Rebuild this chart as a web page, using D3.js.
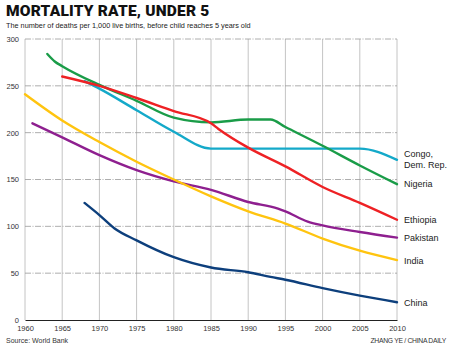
<!DOCTYPE html>
<html>
<head>
<meta charset="utf-8">
<script src="https://cdn.jsdelivr.net/npm/d3@7"></script>
<style>
  body { margin: 0; background: #fff; }
  svg { display: block; font-family: "Liberation Sans", Arial, sans-serif; }
</style>
</head>
<body>
<div id="chart"></div>
<script>
// values (deaths per 1,000 live births)
const congoYears = [1968, 1970, 1975, 1980, 1985, 1990, 1995, 2000, 2005, 2010];
const congoValues = [255, 247, 224, 201, 183, 183, 183, 183, 183, 171];

const nigeriaYears = [1963, 1964, 1965, 1970, 1975, 1980, 1985, 1990, 1993, 1995, 2000, 2005, 2010];
const nigeriaValues = [284, 276, 271, 251, 234, 216, 211, 214, 214, 206, 186, 165, 145];

const ethiopiaYears = [1965, 1970, 1975, 1980, 1985, 1986, 1990, 1995, 2000, 2005, 2010];
const ethiopiaValues = [260, 250, 237, 223, 210, 204, 184, 164, 142, 125, 107];

const pakistanYears = [1961, 1965, 1970, 1975, 1980, 1985, 1990, 1994, 1995, 1998, 2000, 2005, 2010];
const pakistanValues = [210, 195, 176, 160, 148, 139, 126, 119, 116, 105, 101, 94, 88];

const indiaYears = [1960, 1965, 1970, 1975, 1980, 1985, 1990, 1995, 2000, 2005, 2010];
const indiaValues = [241, 213, 190, 169, 150, 132, 116, 103, 87, 74, 64];

const chinaYears = [1968, 1970, 1972, 1975, 1980, 1985, 1990, 1993, 1995, 2000, 2005, 2010];
const chinaValues = [125, 112, 98, 85, 67, 56, 51, 46, 43, 34, 26, 19];

const xTicks = [1960, 1965, 1970, 1975, 1980, 1985, 1990, 1995, 2000, 2005, 2010];
const yTicks = [0, 50, 100, 150, 200, 250, 300];

const series = [
  { name: ['Congo,', 'Dem. Rep.'], years: congoYears, values: congoValues, color: '#14a9c9' },
  { name: ['Nigeria'], years: nigeriaYears, values: nigeriaValues, color: '#1a9c48' },
  { name: ['Ethiopia'], years: ethiopiaYears, values: ethiopiaValues, color: '#ee2124' },
  { name: ['Pakistan'], years: pakistanYears, values: pakistanValues, color: '#8e1f8f' },
  { name: ['India'], years: indiaYears, values: indiaValues, color: '#ffc40f' },
  { name: ['China'], years: chinaYears, values: chinaValues, color: '#0d3f7c' }
];

const width = 450, height = 347;
const svg = d3.select('#chart').append('svg')
  .attr('width', width)
  .attr('height', height);

const x = d3.scaleLinear().domain([1960, 2010]).range([25, 397]);
const y = d3.scaleLinear().domain([0, 300]).range([320, 39]);

// title
svg.append('text')
  .attr('x', 6).attr('y', 16)
  .style('font-family', 'Roboto, sans-serif')
  .style('font-weight', 900)
  .style('font-size', '15.5px')
  .style('letter-spacing', '0.2px')
  .attr('fill', '#111')
  .text('MORTALITY RATE, UNDER 5');

svg.append('text')
  .attr('x', 6).attr('y', 28)
  .style('font-size', '7.3px')
  .attr('fill', '#222')
  .text('The number of deaths per 1,000 live births, before child reaches 5 years old');

// vertical gridlines
svg.append('g')
  .selectAll('line')
  .data(xTicks)
  .join('line')
  .attr('x1', d => x(d)).attr('x2', d => x(d))
  .attr('y1', y(300)).attr('y2', y(0))
  .attr('stroke', '#c4c4c4')
  .attr('stroke-width', 1);

// horizontal gridlines
svg.append('g')
  .selectAll('line')
  .data(yTicks.filter(d => d > 0))
  .join('line')
  .attr('x1', x(1960)).attr('x2', x(2010))
  .attr('y1', d => y(d)).attr('y2', d => y(d))
  .attr('stroke', '#999')
  .attr('stroke-width', 0.8)
  .attr('stroke-dasharray', '6,1.5,1,1.5');

// y axis labels
const yAxis = d3.axisLeft(y).tickValues(yTicks).tickSize(0).tickPadding(6);
const yG = svg.append('g').attr('transform', `translate(${x(1960)},0)`).call(yAxis);
yG.select('.domain').remove();
yG.selectAll('text')
  .style('font-size', '7.5px')
  .style('font-family', '"Liberation Sans", Arial, sans-serif')
  .attr('fill', '#333');

// x axis
const xAxis = d3.axisBottom(x).tickValues(xTicks).tickFormat(d3.format('d')).tickSize(0).tickPadding(6);
const xG = svg.append('g').attr('transform', `translate(0,${y(0)})`).call(xAxis);
xG.select('.domain').attr('stroke', '#222').attr('stroke-width', 1.2);
xG.selectAll('text')
  .style('font-size', '7.5px')
  .style('font-family', '"Liberation Sans", Arial, sans-serif')
  .attr('fill', '#333');

// lines
const line = d3.line()
  .x(d => x(d[0]))
  .y(d => y(d[1]))
  .curve(d3.curveMonotoneX);

svg.append('g')
  .selectAll('path')
  .data(series)
  .join('path')
  .attr('d', s => line(s.years.map((yr, i) => [yr, s.values[i]])))
  .attr('fill', 'none')
  .attr('stroke', s => s.color)
  .attr('stroke-width', 2.4)
  .attr('stroke-linejoin', 'round')
  .attr('stroke-linecap', 'round');

// series labels at the end of each line
const labelY = { 'Congo,': 157, 'Nigeria': 187, 'Ethiopia': 223, 'Pakistan': 241, 'India': 264, 'China': 306 };
series.forEach(s => {
  const t = svg.append('text')
    .attr('x', 404)
    .attr('y', labelY[s.name[0]])
    .style('font-size', '9px')
    .attr('fill', '#222');
  s.name.forEach((part, i) => {
    t.append('tspan').attr('x', 404).attr('dy', i === 0 ? 0 : 10.5).text(part);
  });
});

// footer
svg.append('text')
  .attr('x', 6).attr('y', 343)
  .style('font-size', '7px')
  .attr('fill', '#333')
  .text('Source: World Bank');

svg.append('text')
  .attr('x', 446).attr('y', 343)
  .attr('text-anchor', 'end')
  .style('font-size', '6.8px')
  .style('letter-spacing', '-0.3px')
  .attr('fill', '#333')
  .text('ZHANG YE / CHINA DAILY');
</script>
</body>
</html>
